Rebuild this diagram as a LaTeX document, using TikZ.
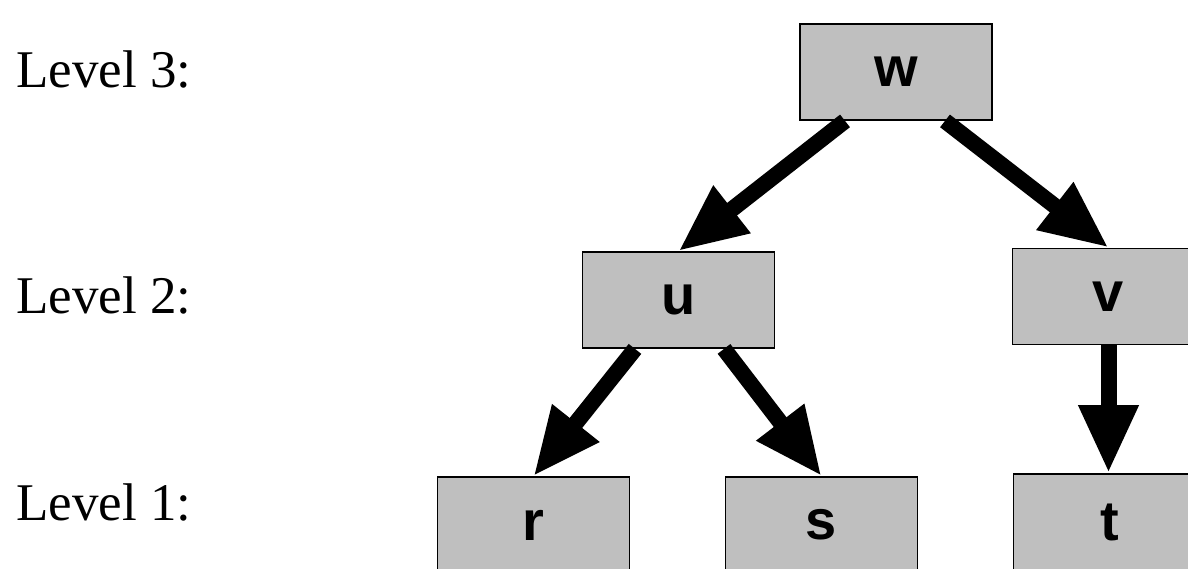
\documentclass[tikz,border=0pt]{standalone}
\usepackage{fontspec}
\setmainfont{Liberation Serif}
\setsansfont{Liberation Sans}
\usepackage{xcolor}
\usepackage{tikz}
\usetikzlibrary{arrows.meta,calc}

\begin{document}
\begin{tikzpicture}[
  x=0.5pt, y=-0.5pt,
  box/.style={draw, line width=0.9pt, fill=black!25, minimum width=96pt, minimum height=48pt,
    inner sep=0pt, font=\sffamily\bfseries\fontsize{28}{30}\selectfont},
  level/.style={anchor=base west, inner sep=0pt, font=\fontsize{26.5}{30}\selectfont},
  arrow/.style={-{Triangle[length=34pt,width=28pt]}, line width=8pt}
]
\useasboundingbox (0,0) rectangle (1188,568);

\node[level] (lev3) at (16,87) {Level 3:};
\node[level] (lev2) at (16,313) {Level 2:};
\node[level] (lev1) at (16,520) {Level 1:};

\node[box] (w) at (896,72) {w};
\node[box] (u) at (678.5,300) {u};
\node[box] (v) at (1108.5,296.5) {v};
\node[box] (r) at (533.5,525) {r};
\node[box] (s) at (821.5,525) {s};
\node[box] (t) at (1109.5,522) {t};

\draw[arrow] ([xshift=-25.5pt]w.south) -- (u.north);
\draw[arrow] ([xshift=24.5pt]w.south) -- (v.north);
\draw[arrow] ([xshift=-21.75pt]u.south) -- (r.north);
\draw[arrow] ([xshift=22.75pt]u.south) -- (s.north);
\draw[arrow] (v.south) -- (v.south |- t.north);
\end{tikzpicture}
\end{document}
